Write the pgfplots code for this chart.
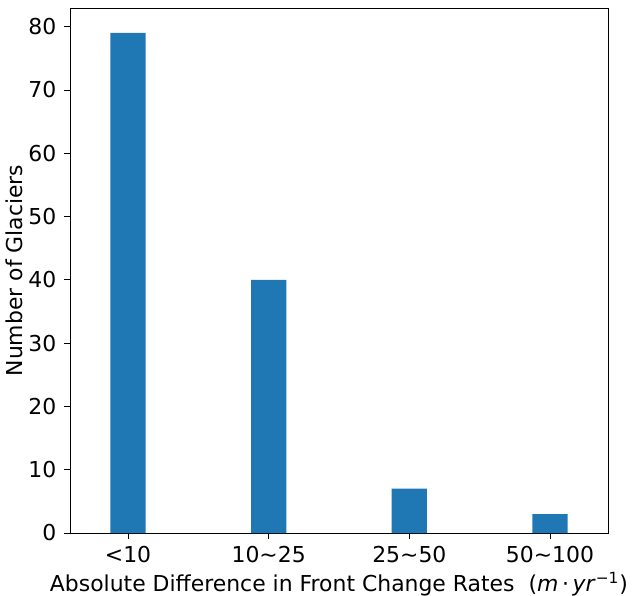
\documentclass[border=0pt]{standalone}
\usepackage{fontspec}
\setmainfont{DejaVu Sans}
\usepackage{pgfplots}
\pgfplotsset{compat=1.18}
\definecolor{mplblue}{HTML}{1F77B4}
\begin{document}
\fontsize{11}{13}\selectfont
\begin{tikzpicture}
\begin{axis}[
  scale only axis,
  width=269bp, height=262.5bp,
  xmin=-0.4125, xmax=3.4125,
  ymin=0, ymax=82.95,
  xtick={0,1,2,3},
  xticklabels={{<10},{10\textasciitilde 25},{25\textasciitilde 50},{50\textasciitilde 100}},
  ytick={0,10,20,30,40,50,60,70,80},
  tick align=outside,
  major tick length=3bp,
  tick style={black, line width=0.4bp},
  axis line style={line width=0.4bp},
  xtick pos=bottom, ytick pos=left,
  /pgf/number format/assume math mode=true,
  tick label style={font=\fontsize{11}{13}\selectfont},
  label style={font=\fontsize{11}{13}\selectfont},
  xlabel={Absolute Difference in Front Change Rates\ \ (\textit{m}\,·\,\textit{yr}\textsuperscript{−1})},
  ylabel={Number of Glaciers},
  xlabel style={yshift=3bp},
  ylabel style={yshift=-4.5bp},
]
\addplot[ybar, bar width=0.25, fill=mplblue, draw=none] coordinates {(0,79) (1,40) (2,7) (3,3)};
\end{axis}
\pgfresetboundingbox
\path ([shift={(-35bp,-31.5bp)}]current axis.south west) rectangle ([shift={(13bp,4bp)}]current axis.north east);
\end{tikzpicture}
\end{document}
